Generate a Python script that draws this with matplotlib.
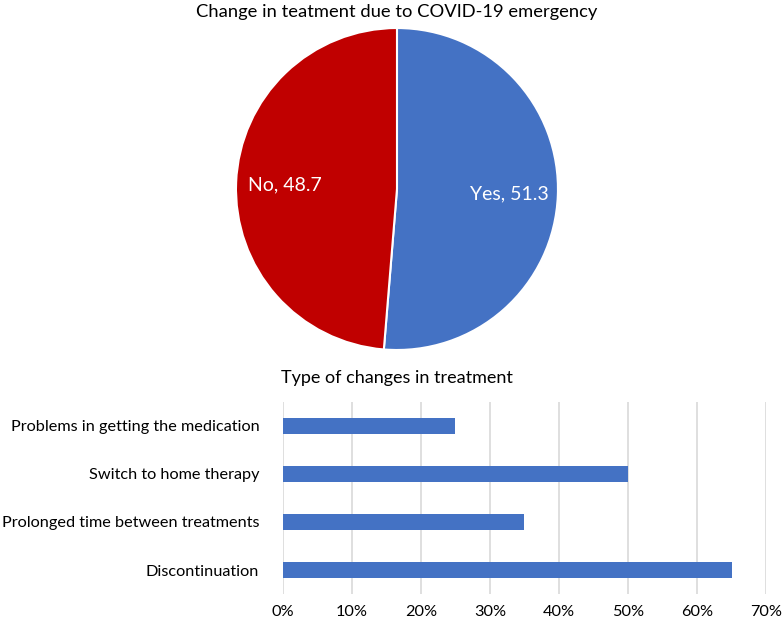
import matplotlib.pyplot as plt
import numpy as np

plt.rcParams['font.family'] = ['Lato', 'DejaVu Sans']

# pie data
pie_labels = ['Yes', 'No']
pie_values = [51.3, 48.7]
pie_colors = ['#4472C4', '#C00000']

# bar data (top to bottom as shown)
bar_labels = ['Problems in getting the medication', 'Switch to home therapy',
              'Prolonged time between treatments', 'Discontinuation']
bar_values = [25, 50, 35, 65]
x_ticks = [0, 10, 20, 30, 40, 50, 60, 70]

fig = plt.figure(figsize=(7.83, 6.24), dpi=100)

# pie chart
ax1 = fig.add_axes([0.3014, 0.4391, 0.4112, 0.516])
wedges, texts = ax1.pie(pie_values, labels=[f'{l}, {v}' for l, v in zip(pie_labels, pie_values)],
                        colors=pie_colors, startangle=90, counterclock=False,
                        labeldistance=0.7, wedgeprops=dict(edgecolor='white', linewidth=1.5),
                        textprops=dict(color='white', fontsize=14, ha='center', va='center'))
ax1.set_xlim(-1, 1)
ax1.set_ylim(-1, 1)
ax1.set_aspect('equal')
fig.text(0.507, 0.981, 'Change in teatment due to COVID-19 emergency', ha='center', va='center',
         fontsize=13.2, color='#000000')

# bar chart
ax2 = fig.add_axes([0.3614, 0.048, 0.6169, 0.308])
y = np.arange(len(bar_labels))
ax2.barh(y, bar_values, height=0.33, color='#4472C4', zorder=3)
ax2.set_ylim(len(bar_labels) - 0.5, -0.5)
ax2.set_xlim(0, 70)
ax2.set_yticks(y)
ax2.set_yticklabels(bar_labels)
ax2.set_xticks(x_ticks)
ax2.set_xticklabels([f'{t}%' for t in x_ticks])
ax2.grid(axis='x', color='#D9D9D9', linewidth=1.2, zorder=0)
for s in ax2.spines.values():
    s.set_visible(False)
ax2.tick_params(axis='both', length=0, labelsize=11.7, colors='#000000')
ax2.tick_params(axis='x', pad=8)
ax2.tick_params(axis='y', pad=17)
fig.text(0.507, 0.394, 'Type of changes in treatment', ha='center', va='center',
         fontsize=13, color='#000000')

fig.savefig('out.png', dpi=100)
